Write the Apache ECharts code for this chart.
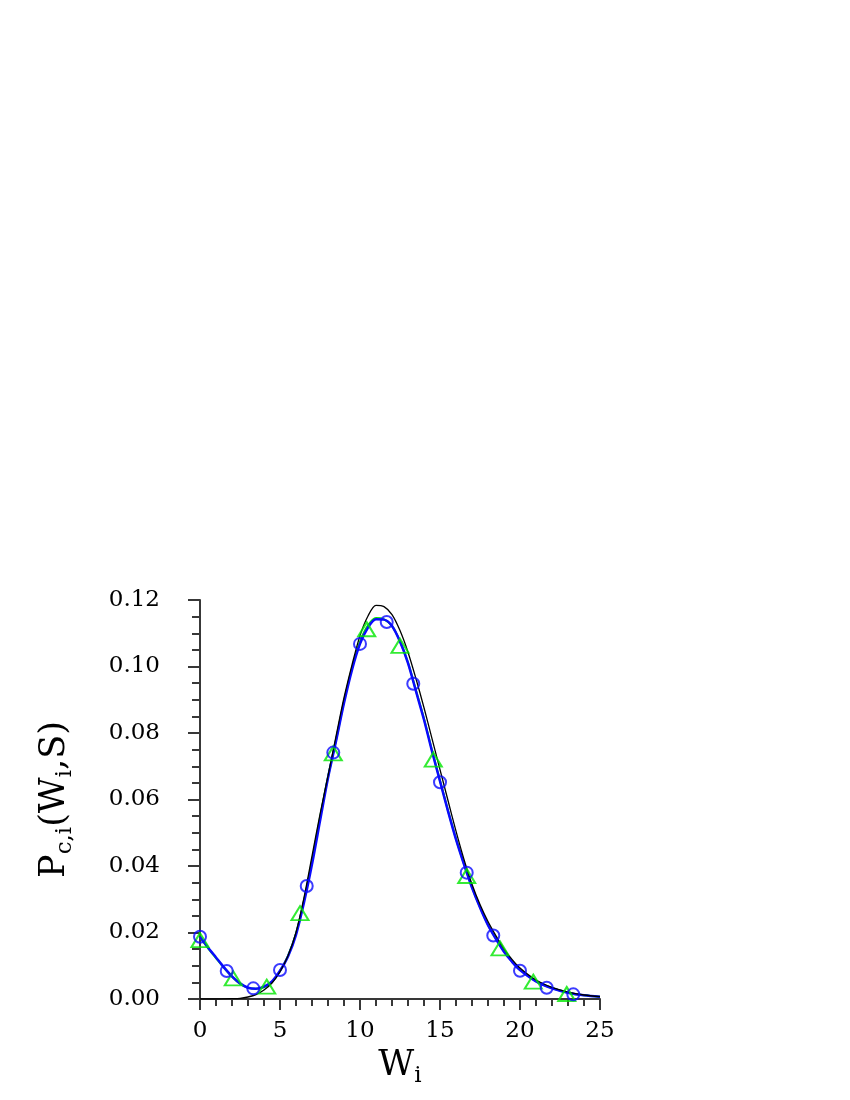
<!DOCTYPE html>
<html>
<head>
<meta charset="utf-8">
<script src="https://cdn.jsdelivr.net/npm/echarts@6/dist/echarts.min.js"></script>
<style>
  html, body { margin: 0; padding: 0; background: #fff; }
  #chart { width: 850px; height: 1100px; }
</style>
</head>
<body>
<div id="chart"></div>
<script>
// ticks
const xTicks = [0, 5, 10, 15, 20, 25];
const yTicks = [0.00, 0.02, 0.04, 0.06, 0.08, 0.10, 0.12];

// blue circles
const circleX = [0, 1.67, 3.33, 5.0, 6.67, 8.33, 10.0, 11.67, 13.33, 15.0, 16.67, 18.33, 20.0, 21.67, 23.33];
const circleY = [0.0187, 0.0084, 0.0032, 0.0087, 0.0340, 0.0741, 0.1068, 0.1134, 0.0948, 0.0652, 0.0380, 0.0191, 0.0085, 0.0034, 0.0014];

// green triangles
const triX = [0, 2.08, 4.17, 6.25, 8.33, 10.42, 12.5, 14.58, 16.67, 18.75, 20.83, 22.92];
const triY = [0.0177, 0.0062, 0.0037, 0.0258, 0.0739, 0.1112, 0.1062, 0.0720, 0.0370, 0.0152, 0.0052, 0.0015];

// black curve
const blackX = [0, 1, 2, 2.5, 3, 3.5, 4, 4.5, 5, 5.5, 6, 6.5, 7, 7.5, 8, 8.5, 9, 9.5, 10, 10.5, 11, 11.5, 12, 12.5, 13, 13.5, 14, 14.5, 15, 15.5, 16, 16.5, 17, 17.5, 18, 18.5, 19, 19.5, 20, 21, 22, 23, 24, 25];
const blackY = [0, 0, 0.0001, 0.0002, 0.0006, 0.0013, 0.0027, 0.0048, 0.0082, 0.0130, 0.0200, 0.0305, 0.0430, 0.0555, 0.0671, 0.0790, 0.0906, 0.1005, 0.1093, 0.1152, 0.1184, 0.1180, 0.1156, 0.1108, 0.1043, 0.0963, 0.0876, 0.0783, 0.0690, 0.0597, 0.0505, 0.0420, 0.0345, 0.0284, 0.0233, 0.0190, 0.0151, 0.0119, 0.0093, 0.0057, 0.0035, 0.0021, 0.0012, 0.0007];

// blue curve
const blueX = [0, 0.5, 1, 1.5, 2, 2.5, 3, 3.5, 4, 4.5, 5, 5.5, 6, 6.5, 7, 7.5, 8, 8.5, 9, 9.5, 10, 10.5, 11, 11.5, 12, 12.5, 13, 13.5, 14, 14.5, 15, 15.5, 16, 16.5, 17, 17.5, 18, 18.5, 19, 19.5, 20, 21, 22, 23, 24, 25];
const blueY = [0.0187, 0.0155, 0.0125, 0.0095, 0.0068, 0.0047, 0.0034, 0.0031, 0.0037, 0.0053, 0.0085, 0.0128, 0.0193, 0.0290, 0.0405, 0.0535, 0.0665, 0.0775, 0.0890, 0.0990, 0.1068, 0.1117, 0.1142, 0.1141, 0.1122, 0.1075, 0.1010, 0.0925, 0.0840, 0.0745, 0.0655, 0.0565, 0.0480, 0.0405, 0.0335, 0.0275, 0.0222, 0.0180, 0.0142, 0.0112, 0.0087, 0.0053, 0.0032, 0.0019, 0.0011, 0.0007];

// green curve (mostly hidden under the blue one)
const greenY = [0.0185, 0.0153, 0.0123, 0.0094, 0.0067, 0.0046, 0.0034, 0.0031, 0.0035, 0.0051, 0.0084, 0.0130, 0.0197, 0.0296, 0.0415, 0.0545, 0.0668, 0.0778, 0.0895, 0.0995, 0.1075, 0.1124, 0.1146, 0.1142, 0.1122, 0.1076, 0.1012, 0.0928, 0.0843, 0.0748, 0.0657, 0.0567, 0.0482, 0.0406, 0.0336, 0.0276, 0.0223, 0.0181, 0.0143, 0.0113, 0.0088, 0.0054, 0.0033, 0.0019, 0.0011, 0.0007];

const zip = (xs, ys) => xs.map((x, i) => [x, ys[i]]);

const FONT = "DejaVu Serif";
const BLUE = "#0a0aff";
const GREEN = "#00e600";
const AXIS = "#383838";

const richName = {
  m: { fontFamily: FONT, fontSize: 35, lineHeight: 44, color: "#000" },
  s: { fontFamily: FONT, fontSize: 23, lineHeight: 22, verticalAlign: "bottom", color: "#000" }
};

const chart = echarts.init(document.getElementById("chart"), null, { renderer: "canvas" });

const option = {
  animation: false,
  backgroundColor: "#fff",
  grid: { left: 200, top: 600, right: 250, bottom: 101, containLabel: false },
  xAxis: {
    type: "value",
    min: xTicks[0],
    max: xTicks[xTicks.length - 1],
    interval: 5,
    name: "{m|W}{s|i}",
    nameLocation: "middle",
    nameGap: 45,
    nameTextStyle: { rich: richName },
    axisLine: { show: true, onZero: false, lineStyle: { color: AXIS, width: 2 } },
    axisTick: { show: true, inside: false, length: 11, lineStyle: { color: AXIS, width: 2 } },
    minorTick: { show: true, splitNumber: 5, length: 7, lineStyle: { color: AXIS, width: 2 } },
    splitLine: { show: false },
    axisLabel: { margin: 21, fontFamily: FONT, fontSize: 23, color: "#000" }
  },
  yAxis: {
    type: "value",
    min: yTicks[0],
    max: yTicks[yTicks.length - 1],
    interval: 0.02,
    name: "{m|P}{s|c,i}{m|(W}{s|i}{m|,S)}",
    nameLocation: "middle",
    nameRotate: 90,
    nameGap: 123,
    nameTextStyle: { rich: richName },
    axisLine: { show: true, onZero: false, lineStyle: { color: AXIS, width: 2 } },
    axisTick: { show: true, inside: false, length: 12, lineStyle: { color: AXIS, width: 2 } },
    minorTick: { show: true, splitNumber: 4, length: 8, lineStyle: { color: AXIS, width: 2 } },
    splitLine: { show: false },
    axisLabel: {
      margin: 40, fontFamily: FONT, fontSize: 23, color: "#000",
      formatter: v => v.toFixed(2)
    }
  },
  series: [
    {
      name: "green curve", type: "line", data: zip(blueX, greenY),
      smooth: 0.3, showSymbol: false, lineStyle: { color: GREEN, width: 2 }, z: 2
    },
    {
      name: "blue curve", type: "line", data: zip(blueX, blueY),
      smooth: 0.3, showSymbol: false, lineStyle: { color: BLUE, width: 2.5 }, z: 3
    },
    {
      name: "black curve", type: "line", data: zip(blackX, blackY),
      smooth: 0.3, showSymbol: false, lineStyle: { color: "#000", width: 1.3 }, z: 4
    },
    {
      name: "triangles", type: "scatter", data: zip(triX, triY),
      symbol: "triangle", symbolSize: [17, 14],
      itemStyle: { color: "transparent", borderColor: GREEN, borderWidth: 2 }, z: 5
    },
    {
      name: "circles", type: "scatter", data: zip(circleX, circleY),
      symbol: "circle", symbolSize: 12,
      itemStyle: { color: "transparent", borderColor: BLUE, borderWidth: 2 }, z: 6
    }
  ]
};

chart.setOption(option);
</script>
</body>
</html>
